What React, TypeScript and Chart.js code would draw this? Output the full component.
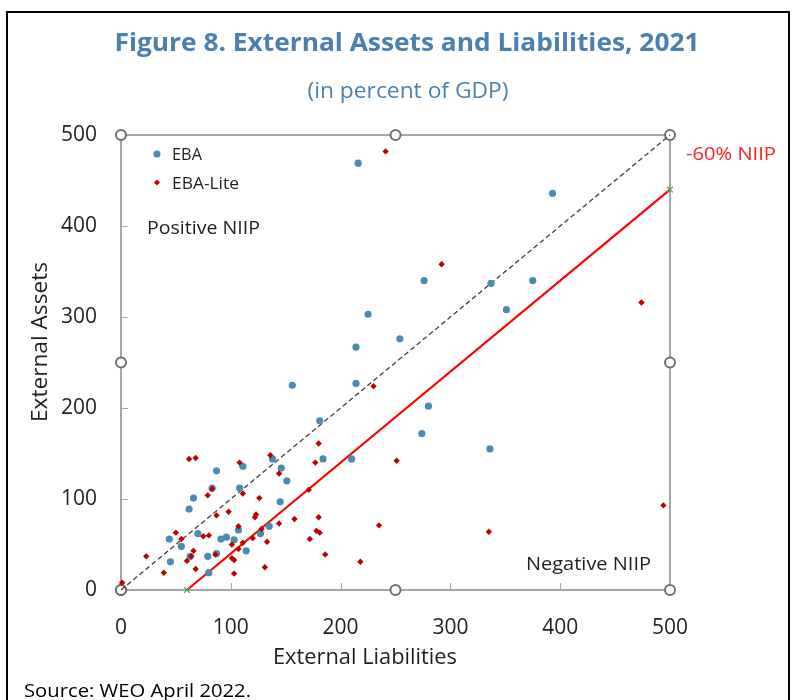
import React, { useEffect, useRef } from 'react';
import { Chart, registerables } from 'chart.js';

Chart.register(...registerables);

// ---- Data (percent of GDP) ----
const EBA_LIABILITIES = [216, 393, 276, 337, 375, 351, 225, 254, 214, 156, 214, 280, 274, 336, 181, 184, 210, 138, 146, 151, 145, 111, 87, 83, 108, 66, 62, 70, 44, 55, 45, 63, 79, 87, 91, 96, 103, 107, 114, 127, 135, 80];
const EBA_ASSETS = [469, 436, 340, 337, 340, 308, 303, 276, 267, 225, 227, 202, 172, 155, 186, 144, 144, 144, 134, 120, 97, 136, 131, 112, 112, 101, 89, 62, 56, 48, 31, 37, 37, 40, 56, 58, 55, 66, 43, 62, 70, 19];

const LITE_LIABILITIES = [241, 292, 474, 494, 335, 230, 180, 177, 171, 251, 180, 178, 181, 186, 218, 235, 62, 68, 108, 50, 55, 23, 39, 1, 60, 66, 64, 68, 79, 83, 75, 80, 87, 98, 86, 101, 107, 111, 101, 103, 103, 107, 111, 120, 122, 123, 126, 128, 133, 131, 136, 144, 144, 158, 172];
const LITE_ASSETS = [482, 358, 316, 93, 64, 224, 161, 140, 110, 142, 80, 65, 63, 39, 31, 71, 144, 145, 140, 63, 56, 37, 19, 8, 32, 43, 37, 23, 104, 111, 59, 60, 82, 86, 39, 50, 70, 106, 35, 33, 18, 45, 52, 57, 80, 83, 101, 67, 53, 25, 148, 128, 73, 78, 56];

const AXIS_MIN = 0;
const AXIS_MAX = 500;
const TICK_STEP = 100;
const INNER_TICKS = [100, 200, 300, 400];

const FRAME_X = [0, 0, 0, 250, 500, 500, 500, 250, 0];
const FRAME_Y = [0, 250, 500, 500, 500, 250, 0, 0, 0];
const PARITY_X = [0, 500];
const PARITY_Y = [0, 500];
const NIIP_X = [60, 500];
const NIIP_Y = [0, 440];

const TITLE = 'Figure 8. External Assets and Liabilities, 2021';
const SUBTITLE = '(in percent of GDP)';
const X_TITLE = 'External Liabilities';
const Y_TITLE = 'External Assets';
const SOURCE = 'Source: WEO April 2022.';
const SERIES_NAMES = ['EBA', 'EBA-Lite'];

const FONT = "'Open Sans', 'Noto Sans', sans-serif";
const BLUE = '#4b8bb2';
const RED = '#c00000';
const TITLE_BLUE = '#4a80b0';

const pts = (xs: number[], ys: number[]) => xs.map((x, i) => ({ x, y: ys[i] }));

function drawText(
  ctx: CanvasRenderingContext2D,
  s: string,
  x: number,
  y: number,
  font: string,
  color: string,
  align: CanvasTextAlign,
  width?: number
) {
  ctx.save();
  ctx.font = font;
  ctx.fillStyle = color;
  ctx.textBaseline = 'alphabetic';
  ctx.textAlign = align;
  const w = ctx.measureText(s).width;
  const sx = width ? width / w : 1;
  ctx.translate(x, y);
  ctx.scale(sx, 1);
  ctx.fillText(s, 0, 0);
  ctx.restore();
}

const decor = {
  id: 'decor',
  beforeDatasetsDraw(chart: any) {
    const ctx = chart.ctx as CanvasRenderingContext2D;
    const xs = chart.scales.x;
    const ys = chart.scales.y;
    const { left, bottom } = chart.chartArea;
    ctx.save();
    ctx.strokeStyle = '#a6a6a6';
    ctx.lineWidth = 1;
    ctx.beginPath();
    INNER_TICKS.forEach((v) => {
      const px = Math.round(xs.getPixelForValue(v)) + 0.5;
      ctx.moveTo(px, bottom);
      ctx.lineTo(px, bottom - 7);
      const py = Math.round(ys.getPixelForValue(v)) + 0.5;
      ctx.moveTo(left, py);
      ctx.lineTo(left + 7, py);
    });
    ctx.stroke();
    ctx.restore();
  },
  afterDraw(chart: any) {
    const ctx = chart.ctx as CanvasRenderingContext2D;
    // outer frame
    ctx.save();
    ctx.strokeStyle = '#000';
    ctx.lineWidth = 2;
    ctx.strokeRect(7, 12, 782, 720);
    ctx.restore();

    drawText(ctx, TITLE, 407, 51, `bold 25px ${FONT}`, TITLE_BLUE, 'center', 585);
    drawText(ctx, SUBTITLE, 408, 98, `21px ${FONT}`, TITLE_BLUE, 'center', 201);

    // legend
    ctx.save();
    ctx.fillStyle = BLUE;
    ctx.beginPath();
    ctx.arc(157, 154, 3.5, 0, Math.PI * 2);
    ctx.fill();
    ctx.fillStyle = RED;
    ctx.beginPath();
    ctx.moveTo(157, 179.5);
    ctx.lineTo(160, 182.5);
    ctx.lineTo(157, 185.5);
    ctx.lineTo(154, 182.5);
    ctx.closePath();
    ctx.fill();
    ctx.restore();
    drawText(ctx, SERIES_NAMES[0], 172, 160, `17px ${FONT}`, '#1f1f1f', 'left', 30);
    drawText(ctx, SERIES_NAMES[1], 172, 189, `17px ${FONT}`, '#1f1f1f', 'left', 67);

    drawText(ctx, 'Positive NIIP', 147, 234, `19px ${FONT}`, '#1f1f1f', 'left', 113);
    drawText(ctx, 'Negative NIIP', 526, 570, `19px ${FONT}`, '#1f1f1f', 'left', 125);
    drawText(ctx, '-60% NIIP', 686, 160, `19px ${FONT}`, '#ff2020', 'left', 90);

    drawText(ctx, X_TITLE, 365, 664, `21px ${FONT}`, '#1f1f1f', 'center', 184);
    ctx.save();
    ctx.translate(47, 342);
    ctx.rotate(-Math.PI / 2);
    drawText(ctx, Y_TITLE, 0, 0, `21px ${FONT}`, '#1f1f1f', 'center', 160);
    ctx.restore();

    drawText(ctx, SOURCE, 24, 697, `18px ${FONT}`, '#000', 'left', 227);
  },
};

export default function App() {
  const ref = useRef<HTMLCanvasElement>(null);
  useEffect(() => {
    const canvas = ref.current!;
    const chart = new Chart(canvas, {
      type: 'scatter',
      data: {
        datasets: [
          {
            label: SERIES_NAMES[1],
            data: pts(LITE_LIABILITIES, LITE_ASSETS),
            pointStyle: 'rectRot',
            pointRadius: 3.2,
            pointBorderWidth: 0,
            backgroundColor: RED,
            borderColor: RED,
            clip: false,
          } as any,
          {
            label: SERIES_NAMES[0],
            data: pts(EBA_LIABILITIES, EBA_ASSETS),
            pointStyle: 'circle',
            pointRadius: 3.6,
            pointBorderWidth: 0,
            backgroundColor: BLUE,
            borderColor: BLUE,
            clip: false,
          } as any,
          {
            label: '-60% NIIP',
            data: pts(NIIP_X, NIIP_Y),
            showLine: true,
            borderColor: '#ff0000',
            borderWidth: 2.2,
            pointStyle: 'crossRot',
            pointRadius: 4,
            pointBorderColor: '#3fa66a',
            pointBorderWidth: 1.2,
            clip: false,
          } as any,
          {
            label: 'parity',
            data: pts(PARITY_X, PARITY_Y),
            showLine: true,
            borderColor: '#404040',
            borderWidth: 1.3,
            borderDash: [5, 3],
            pointRadius: 0,
            clip: false,
          } as any,
          {
            label: 'frame',
            data: pts(FRAME_X, FRAME_Y),
            showLine: true,
            borderColor: '#a6a6a6',
            borderWidth: 2,
            pointStyle: 'circle',
            pointRadius: 5,
            pointBackgroundColor: '#ffffff',
            pointBorderColor: '#6e6e6e',
            pointBorderWidth: 2,
            clip: false,
          } as any,
        ],
      },
      options: {
        responsive: false,
        animation: false,
        events: [],
        layout: { padding: { left: 0, right: 122, top: 135, bottom: 0 } },
        plugins: {
          legend: { display: false },
          tooltip: { enabled: false },
          title: { display: false },
        },
        scales: {
          x: {
            type: 'linear',
            min: AXIS_MIN,
            max: AXIS_MAX,
            ticks: {
              stepSize: TICK_STEP,
              padding: 25,
              color: '#1f1f1f',
              font: { family: FONT, size: 21 },
            },
            grid: { display: false, drawTicks: false, tickLength: 0 },
            border: { display: false },
            afterFit: (s: any) => {
              s.height = 110;
            },
          },
          y: {
            type: 'linear',
            min: AXIS_MIN,
            max: AXIS_MAX,
            ticks: {
              stepSize: TICK_STEP,
              padding: 24,
              color: '#1f1f1f',
              font: { family: FONT, size: 21 },
            },
            grid: { display: false, drawTicks: false, tickLength: 0 },
            border: { display: false },
            afterFit: (s: any) => {
              s.width = 121;
            },
          },
        },
      },
      plugins: [decor],
    } as any);
    return () => chart.destroy();
  }, []);
  return (
    <div style={{ position: 'absolute', left: 0, top: 0, width: 792, height: 700, background: '#fff' }}>
      <canvas ref={ref} width={792} height={700} style={{ display: 'block', width: 792, height: 700 }} />
    </div>
  );
}
